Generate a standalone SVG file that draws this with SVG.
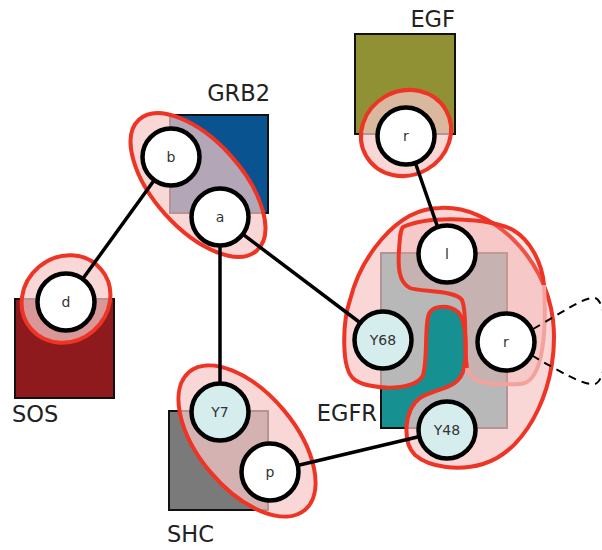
<svg xmlns="http://www.w3.org/2000/svg" width="602" height="550" viewBox="0 0 602 550">
<style>
.box{stroke:#111;stroke-width:2}
.ov{fill:rgb(245,199,198);fill-opacity:0.72;stroke:#ee3424;stroke-width:4}
.edge{stroke:#000;stroke-width:3.5;fill:none}
.node{stroke:#000;stroke-width:4.5;fill:#fff}
.site{stroke:#000;stroke-width:4.5;fill:#d6eded}
.nl{font-family:"DejaVu Sans",sans-serif;font-size:14px;fill:#333;text-anchor:middle;dominant-baseline:central}
.lab{font-family:"DejaVu Sans",sans-serif;font-size:22.5px;fill:#222}
</style>
<rect width="602" height="550" fill="#fff"/>

<g id="GRB2">
<rect class="box" x="170" y="115" width="98" height="98" fill="#0a5391"/>
<text class="lab" x="270" y="101" text-anchor="end">GRB2</text>
</g>
<g id="EGF">
<rect class="box" x="355" y="34" width="100" height="100" fill="#8f9134"/>
<text class="lab" x="455" y="27" text-anchor="end">EGF</text>
</g>
<g id="SOS">
<rect class="box" x="15" y="299" width="99" height="99" fill="#8f1a1d"/>
<text class="lab" x="12" y="422">SOS</text>
</g>
<g id="SHC">
<rect class="box" x="169" y="411" width="99" height="99" fill="#7a7a7a"/>
<text class="lab" x="167" y="542">SHC</text>
</g>
<g id="EGFR">
<rect class="box" x="381" y="253" width="126" height="175" fill="#169090"/>
<text class="lab" x="377" y="421" text-anchor="end">EGFR</text>
<path class="ov" d="M440,208 C490,205 545,255 553,320 C560,380 530,450 483,464 C460,471 430,468 415,455 C402,442 404,410 420,398 C435,388 460,390 464,368 C468,350 466,320 458,312 C450,305 435,305 430,312 C424,320 428,360 423,375 C415,392 370,390 355,380 C340,370 343,320 350,300 C360,260 395,208 440,208 Z"/>
<path d="M403,227 C430,215 490,218 513,230 C530,240 542,262 544,285 C546,320 546,383 520,384 C495,385 470,385 467,368 C463,345 468,315 462,300 C455,290 420,292 410,288 C398,282 398,265 399,250 C400,238 400,230 403,227 Z" fill="rgb(240,165,165)" fill-opacity="0.28" stroke="none"/>
<path d="M467,368 C463,345 468,315 462,300 C455,290 420,292 410,288 C398,282 398,265 399,250 C400,238 400,230 403,227 C430,215 490,218 513,230 C530,240 542,262 544,285" fill="none" stroke="#ee3424" stroke-width="4"/>
<path d="M544,285 C546,320 546,383 520,384 C495,385 470,385 467,368" fill="none" stroke="#f4a29c" stroke-width="4"/>
</g>

<g id="overlays">
<ellipse class="ov" cx="198" cy="185" rx="88" ry="44" transform="rotate(48 198 185)"/>
<ellipse class="ov" cx="66" cy="299" rx="46" ry="42" transform="rotate(-40 66 299)"/>
<ellipse class="ov" cx="247" cy="441" rx="90" ry="48" transform="rotate(50 247 441)"/>
<ellipse class="ov" cx="406" cy="133" rx="46" ry="42" transform="rotate(-30 406 133)"/>
</g>

<g id="connectors">
<line class="edge" x1="171" y1="157" x2="66" y2="302"/>
<line class="edge" x1="220" y1="217" x2="220" y2="412"/>
<line class="edge" x1="220" y1="217" x2="383" y2="340"/>
<line class="edge" x1="270" y1="472" x2="447" y2="430"/>
<line class="edge" x1="406" y1="136" x2="447" y2="254"/>
<path d="M533,329 C560,314 585,296 595,298 C610,302 610,380 595,384 C585,386 560,372 533,356" fill="none" stroke="#000" stroke-width="2" stroke-dasharray="8,6"/>
</g>

<g id="node-b"><circle class="node" cx="171" cy="157" r="28.5"/><text class="nl" x="171" y="157">b</text></g>
<g id="node-a"><circle class="node" cx="220" cy="217" r="28.5"/><text class="nl" x="220" y="217">a</text></g>
<g id="node-d"><circle class="node" cx="66" cy="302" r="28.5"/><text class="nl" x="66" y="302">d</text></g>
<g id="node-Y7"><circle class="site" cx="220" cy="412" r="28.5"/><text class="nl" x="220" y="412">Y7</text></g>
<g id="node-p"><circle class="node" cx="270" cy="472" r="28.5"/><text class="nl" x="270" y="472">p</text></g>
<g id="node-egf-r"><circle class="node" cx="406" cy="136" r="28.5"/><text class="nl" x="406" y="136">r</text></g>
<g id="node-l"><circle class="node" cx="447" cy="254" r="28.5"/><text class="nl" x="447" y="254">l</text></g>
<g id="node-Y68"><circle class="site" cx="383" cy="340" r="28.5"/><text class="nl" x="383" y="340">Y68</text></g>
<g id="node-egfr-r"><circle class="node" cx="506" cy="342" r="28.5"/><text class="nl" x="506" y="342">r</text></g>
<g id="node-Y48"><circle class="site" cx="447" cy="430" r="28.5"/><text class="nl" x="447" y="430">Y48</text></g>
</svg>
